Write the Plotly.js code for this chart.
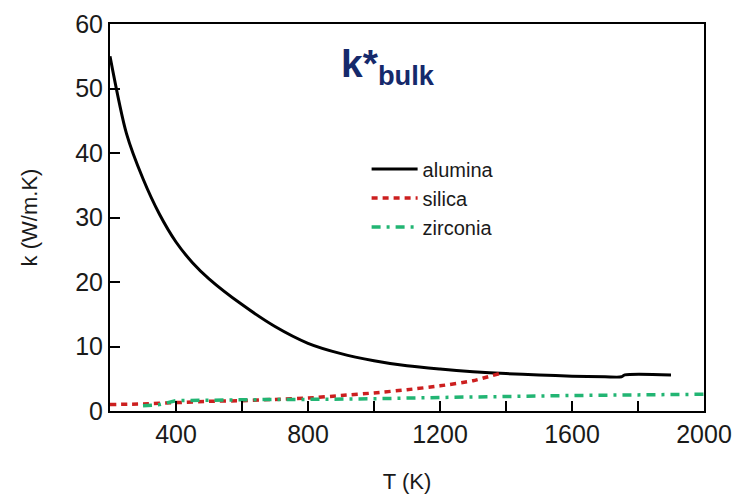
<!DOCTYPE html>
<html>
<head>
<meta charset="utf-8">
<script src="https://cdn.plot.ly/plotly-3.0.1.min.js"></script>
<style>
  html, body { margin: 0; padding: 0; background: #fff; }
  #chart { width: 749px; height: 494px; }
</style>
</head>
<body>
<div id="chart"></div>
<script>
// Bulk thermal conductivity k (W/m.K) versus temperature T (K)
const aluminaT = [200, 250, 300, 350, 400, 450, 500, 600, 700, 800, 900, 1000, 1100, 1200, 1300, 1400, 1500, 1600, 1700, 1750, 1760, 1900];
const aluminaK = [55, 43, 36, 30.5, 26.2, 23.0, 20.5, 16.5, 13.1, 10.5, 8.9, 7.8, 7.0, 6.5, 6.1, 5.8, 5.6, 5.4, 5.3, 5.3, 5.6, 5.6];

const silicaT = [200, 300, 400, 500, 600, 700, 800, 900, 1000, 1100, 1200, 1300, 1380];
const silicaK = [1.0, 1.1, 1.3, 1.5, 1.6, 1.8, 2.0, 2.4, 2.8, 3.3, 3.9, 4.7, 5.8];

const zirconiaT = [300, 350, 400, 500, 600, 700, 800, 900, 1000, 1200, 1400, 1600, 1800, 2000];
const zirconiaK = [0.8, 1.0, 1.6, 1.7, 1.7, 1.8, 1.8, 1.8, 1.9, 2.1, 2.3, 2.4, 2.5, 2.6];

const xTickVals = [400, 600, 800, 1000, 1200, 1400, 1600, 1800, 2000];
const xTickText = ['400', '', '800', '', '1200', '', '1600', '', '2000'];
const yTickVals = [0, 10, 20, 30, 40, 50, 60];

const FONT = '"Liberation Sans", Arial, sans-serif';

const traces = [
  {
    x: aluminaT, y: aluminaK, name: 'alumina', mode: 'lines',
    line: { color: '#000000', width: 3, shape: 'spline', smoothing: 0.8 }
  },
  {
    x: silicaT, y: silicaK, name: 'silica', mode: 'lines',
    line: { color: '#cc1f1f', width: 3.5, dash: '6px,5px', shape: 'spline', smoothing: 0.6 }
  },
  {
    x: zirconiaT, y: zirconiaK, name: 'zirconia', mode: 'lines',
    line: { color: '#22b573', width: 3.5, dash: '9px,6px,3px,6px' }
  }
];

const layout = {
  width: 749, height: 494,
  margin: { l: 110, r: 45, t: 24, b: 83 },
  paper_bgcolor: '#ffffff', plot_bgcolor: '#ffffff',
  font: { family: FONT, color: '#1a1a1a' },
  showlegend: true,
  legend: {
    x: 0.432, y: 0.676, xanchor: 'left', yanchor: 'top',
    bgcolor: 'rgba(0,0,0,0)', borderwidth: 0,
    font: { family: FONT, size: 20, color: '#1a1a1a' },
    itemwidth: 46, tracegroupgap: 0
  },
  xaxis: {
    range: [200, 2000],
    tickmode: 'array', tickvals: xTickVals, ticktext: xTickText,
    ticks: 'inside', ticklen: 10, tickwidth: 2, tickcolor: '#000',
    showline: true, linecolor: '#000', linewidth: 2, mirror: true,
    showgrid: false, zeroline: false,
    tickfont: { family: FONT, size: 25, color: '#1a1a1a' },
    title: { text: 'T (K)', font: { family: FONT, size: 22, color: '#1a1a1a' }, standoff: 27 },
    automargin: false
  },
  yaxis: {
    range: [0, 60],
    tickmode: 'array', tickvals: yTickVals,
    ticks: 'inside', ticklen: 10, tickwidth: 2, tickcolor: '#000',
    showline: true, linecolor: '#000', linewidth: 2, mirror: true,
    showgrid: false, zeroline: false,
    tickfont: { family: FONT, size: 25, color: '#1a1a1a' },
    title: { text: 'k (W/m.K)', font: { family: FONT, size: 22, color: '#1a1a1a' }, standoff: 31 },
    automargin: false
  },
  annotations: [
    {
      xref: 'paper', yref: 'paper', x: 0.386, y: 0.89,
      xanchor: 'left', yanchor: 'middle', showarrow: false,
      text: '<b>k*<sub>bulk</sub></b>',
      font: { family: FONT, size: 39, color: '#15296b' }
    }
  ]
};

Plotly.newPlot('chart', traces, layout, { displayModeBar: false, staticPlot: true });
</script>
</body>
</html>
